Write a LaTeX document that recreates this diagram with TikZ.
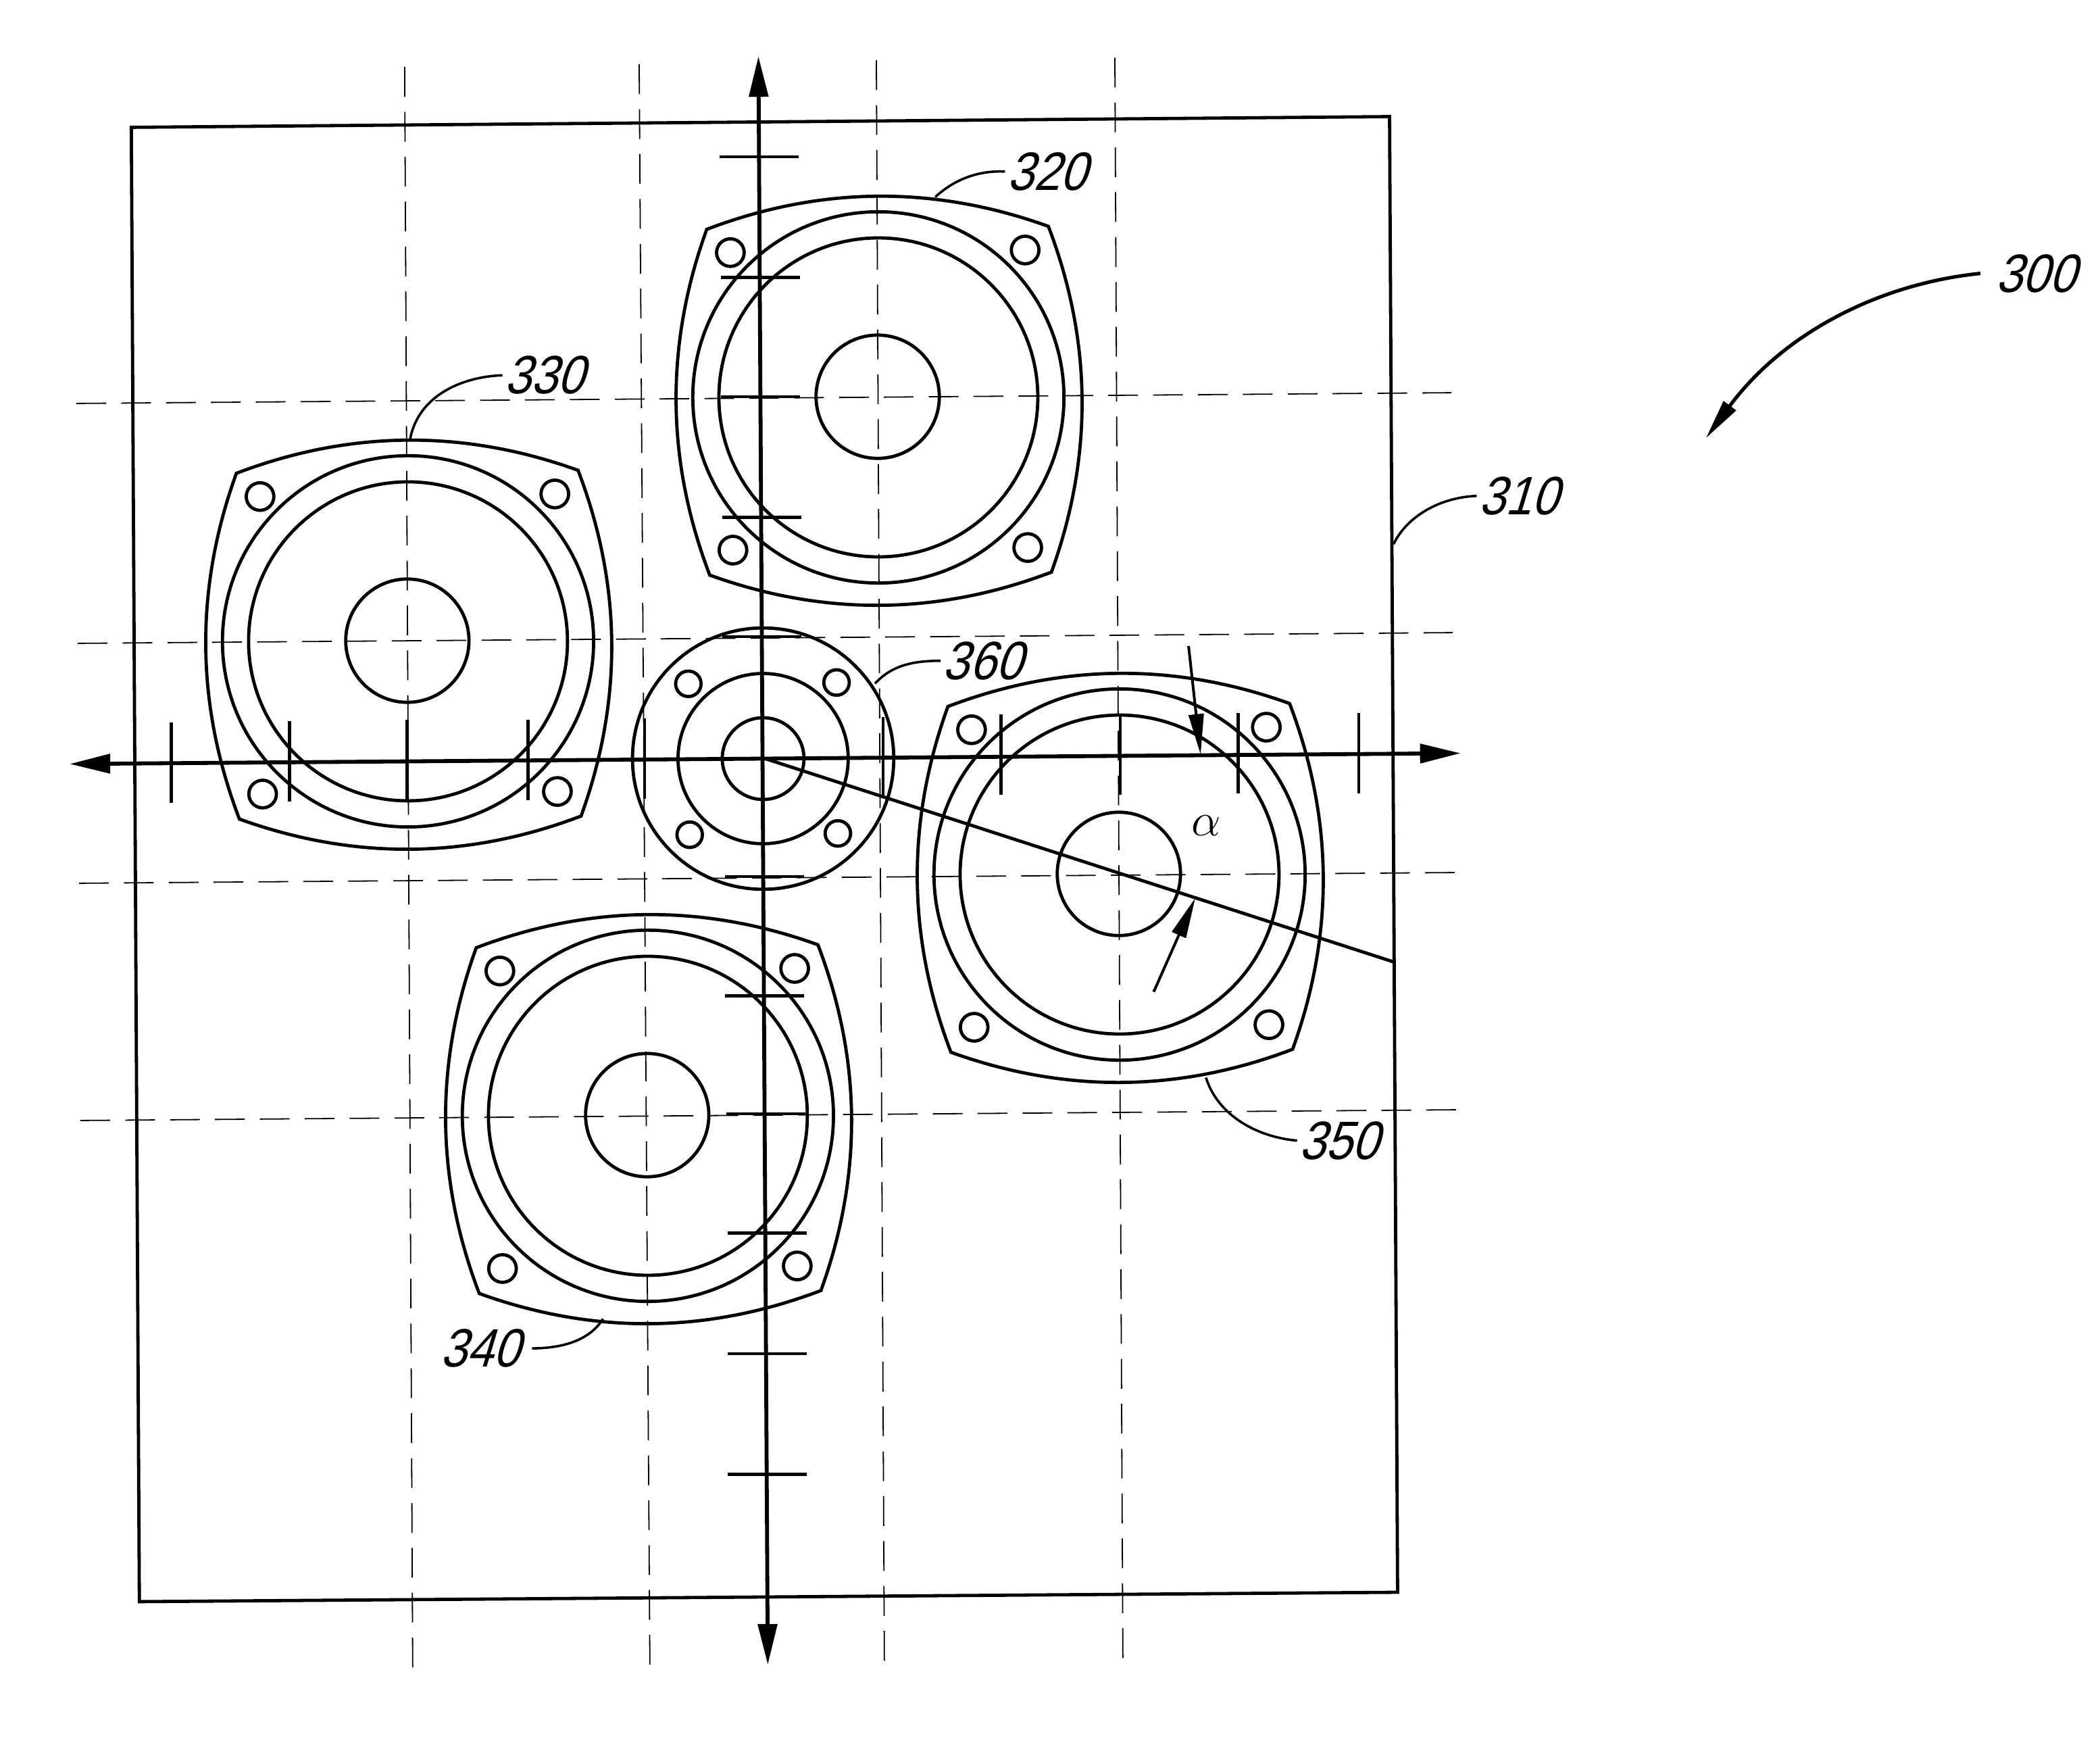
\documentclass[tikz,border=0pt]{standalone}
\usepackage{fontspec}
\usetikzlibrary{arrows.meta}
\newfontfamily\lblfont[FakeSlant=0.3,FakeStretch=0.88]{Liberation Sans}
\tikzset{
  outline/.style={line width=1.2pt,black},
  axisline/.style={line width=1.45pt,black,{Triangle[length=15pt,width=7pt]}-{Triangle[length=15pt,width=7pt]}},
  tick/.style={line width=1.2pt,black},
  center/.style={line width=0.45pt,black,dash pattern=on 11pt off 5.6pt},
  leader/.style={line width=0.9pt,black},
  pointer/.style={line width=1pt,black,-{Triangle[length=15pt,width=5.5pt]}},
  lbl/.style={font=\lblfont\fontsize{20}{20}\selectfont,inner sep=0.5pt},
  speaker/.pic={
    \begin{scope}[shift={(1,3)}]
    \draw[outline] (-127.5,-129) .. controls (-42.5,-160.5) and (42.5,-160.5) .. (127.5,-129)
      .. controls (159.5,-43) and (159.5,43) .. (127.5,129)
      .. controls (42.5,160.5) and (-42.5,160.5) .. (-127.5,129)
      .. controls (-159.5,43) and (-159.5,-43) .. (-127.5,-129) -- cycle;
    \end{scope}
    \draw[outline] (0.5,0.5) circle (138.5) (0.5,0.5) circle (119) (0,0) circle (46);
    \foreach \sx/\sy in {-1/-1,1/-1,1/1,-1/1}
      \draw[outline] (1+\sx*110,2.5+\sy*111) circle (10.3);
  },
  tweeter/.pic={
    \draw[outline] (0,0) circle (97.5) (0,0) circle (63.5) (0,0) circle (30.5);
    \foreach \sx/\sy in {-1/-1,1/-1,1/1,-1/1}
      \draw[outline] (\sx*55.3,\sy*56.3) circle (9.5);
  }
}
\begin{document}
\begin{tikzpicture}[x=0.4958pt,y=-0.4958pt]
\useasboundingbox (0,0) rectangle (1567.2,1301.5);
\fill[white] (0,0) rectangle (1567.2,1301.5);
% frame
\draw[outline] (98,95) -- (1037,87) -- (1043,1188) -- (104,1195) -- cycle;
% centre lines
\draw[center] (302,50) -- (308,1245);
\draw[center] (477,48) -- (485,1243);
\draw[center] (654,45) -- (660,1243);
\draw[center] (832,43) -- (838,1240);
\draw[center] (57,301) -- (1083,293);
\draw[center] (58,480) -- (1084,472);
\draw[center] (59,659) -- (1086,651);
\draw[center] (60,836) -- (1087,828);
% speakers
\pic[rotate=0.5] at (655,296) {speaker};
\pic[rotate=0.5] at (304,478) {speaker};
\pic[rotate=0.5] at (483,832) {speaker};
\pic[rotate=0.5] at (835,652) {speaker};
\pic[rotate=0.5] at (569.5,566) {tweeter};
% axes
\coordinate (yt) at (566,42);
\coordinate (yb) at (573,1242);
\coordinate (xl) at (52,570);
\coordinate (xr) at (1090,562);
\draw[axisline] (yt) -- (yb);
\draw[axisline] (xl) -- (xr);
% ticks on the vertical axis
\foreach \y/\x in {117/537,207/538,296/538,386/539,475/539,654/541,743/541,831/542,920/543,1010/543,1100/543}
  \draw[tick] (\x,\y) -- (\x+59,\y);
% ticks on the horizontal axis
\foreach \x/\y in {128/539,216/538,304/537,394/537,481/536,659/535,747/533,836/533,924/532,1014/532}
  \draw[tick] (\x,\y) -- (\x,\y+60);
% slanted line and angle
\coordinate (sl0) at (571,566);
\coordinate (sl1) at (1041,718);
\draw[line width=1.2pt] (sl0) -- (sl1);
\coordinate (a1s) at (887,482);
\coordinate (a1e) at (896,563);
\coordinate (a2s) at (861,740);
\coordinate (a2e) at (892,670);
\draw[pointer] (a1s) -- (a1e);
\draw[pointer] (a2s) -- (a2e);
\node[font=\LARGE,inner sep=0pt] (alpha) at (900,616) {$\alpha$};
% labels and leaders
\node[lbl,anchor=west] (n320) at (750,128) {320};
\node[lbl,anchor=west] (n330) at (375,280) {330};
\node[lbl,anchor=west] (n310) at (1102,370) {310};
\node[lbl,anchor=west] (n360) at (702,493) {360};
\node[lbl,anchor=west] (n350) at (968,851) {350};
\node[lbl,anchor=east] (n340) at (389,1006) {340};
\node[lbl,anchor=west] (n300) at (1488,204) {300};
\coordinate (c320) at (698,147);
\coordinate (c330) at (306,328);
\coordinate (c310) at (1040,406);
\coordinate (c360) at (653,510);
\coordinate (c350) at (900,804);
\coordinate (c340) at (450,984);
\coordinate (c300) at (1273,327);
\draw[leader] (c320) .. controls (712,134) and (730,127) .. (n320.west);
\draw[leader] (c330) .. controls (312,295) and (345,281) .. (n330.west);
\draw[leader] (c310) .. controls (1050,385) and (1075,371) .. (n310.west);
\draw[leader] (c360) .. controls (665,497) and (680,493) .. (n360.west);
\draw[leader] (c350) .. controls (908,830) and (935,848) .. (n350.west);
\draw[leader] (c340) .. controls (440,1000) and (420,1006) .. ([xshift=4pt]n340.east);
\draw[pointer,line width=1.3pt] ([xshift=-5pt]n300.west) .. controls (1400,212) and (1330,250) .. (c300);
\end{tikzpicture}
\end{document}
